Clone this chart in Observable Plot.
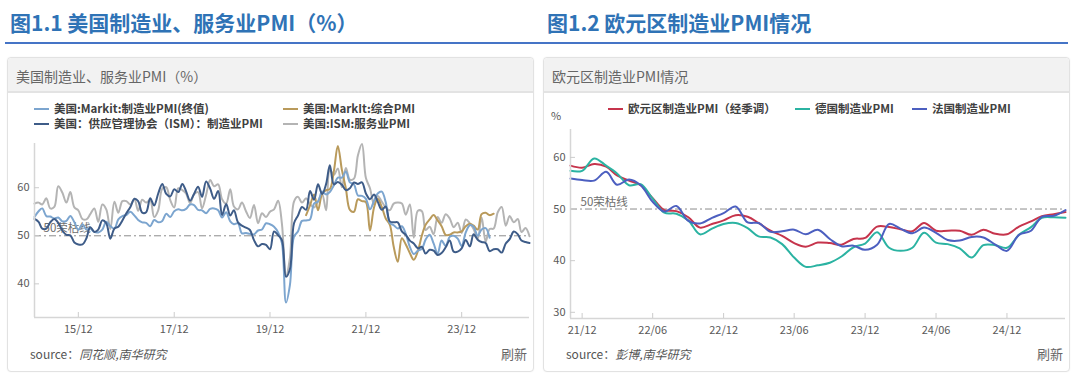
<!DOCTYPE html>
<html>
<head>
<meta charset="utf-8">
<script src="https://cdn.jsdelivr.net/npm/d3@7"></script>
<script src="https://cdn.jsdelivr.net/npm/@observablehq/plot@0.6"></script>
<style>
  html, body { margin: 0; padding: 0; background: #fff; }
  body { width: 1080px; height: 381px; overflow: hidden; position: relative;
         font-family: "Noto Sans CJK SC", "Noto Sans", sans-serif; }
  .abs { position: absolute; white-space: nowrap; }
  .title { font-size: 21px; font-weight: bold; color: #2f73b6; top: 7px; line-height: 30px; }
  .uline { height: 2px; background: #4574c6; top: 42px; }
  .card { top: 57px; height: 315px; border: 1px solid #e2e2e2; border-radius: 4px; box-sizing: border-box;
          box-shadow: 0 0 2px rgba(0,0,0,0.06); background: #fff; }
  .head { position: absolute; left: 0; right: 0; top: 0; height: 35px; background: #f2f2f2;
          border-bottom: 2px solid #e3e3e3; border-radius: 4px 4px 0 0; box-sizing: border-box;
          font-size: 14px; color: #666; line-height: 36px; padding-left: 8px; }
  .leg { font-size: 11.5px; font-weight: bold; color: #404040; line-height: 14px; }
  .sw { display: inline-block; width: 15px; height: 2.5px; vertical-align: middle; margin-right: 5px; position: relative; top: -1px; }
  .src { font-size: 12px; color: #555; line-height: 16px; }
  .src i { font-style: italic; color: #555; }
  .refresh { font-size: 13px; color: #666; line-height: 16px; }
  .unit { font-size: 11px; color: #555; line-height: 14px; }
</style>
</head>
<body>
<div class="abs title" style="left:10px">图1.1 美国制造业、服务业PMI（%）</div>
<div class="abs title" style="left:547px">图1.2 欧元区制造业PMI情况</div>
<div class="abs uline" style="left:5px;width:1063px"></div>

<div class="abs card" style="left:7px;width:527px"><div class="head">美国制造业、服务业PMI（%）</div></div>
<div class="abs card" style="left:543px;width:527px"><div class="head">欧元区制造业PMI情况</div></div>

<div id="legL"></div>
<div id="legR"></div>
<div class="abs unit" style="left:551px;top:108px">%</div>

<div id="chartL" class="abs" style="left:0px;top:95px"></div>
<div id="chartR" class="abs" style="left:540px;top:95px"></div>

<div class="abs src" style="left:30px;top:346px">source：<i>同花顺,南华研究</i></div>
<div class="abs refresh" style="left:501px;top:346px">刷新</div>
<div class="abs src" style="left:566px;top:346px">source：<i>彭博,南华研究</i></div>
<div class="abs refresh" style="left:1037px;top:346px">刷新</div>

<script>
// ---------------- Left chart data (US PMI, monthly) ----------------
const usNames = ["美国:Markit:制造业PMI(终值)", "美国:MarkIt:综合PMI", "美国：供应管理协会（ISM）：制造业PMI", "美国:ISM:服务业PMI"];
const usColors = ["#7ca5cf", "#b99a5b", "#3e5c88", "#b4b4b4"];
const usStart = ["2015-01", "2020-09", "2015-01", "2015-01"];

// 美国:Markit:制造业PMI(终值)  2015-01 .. 2024-07
const markitMfg = [
  53.9, 55.1, 55.7, 54.1, 54.0, 53.6, 53.8, 53.0, 53.1, 54.1, 52.8, 51.2,
  52.4, 51.3, 51.5, 50.8, 50.7, 51.3, 52.9, 52.0, 51.5, 53.4, 54.1, 54.3,
  55.0, 54.2, 53.3, 52.8, 52.7, 52.0, 53.3, 52.8, 53.1, 54.6, 53.9, 55.1,
  55.5, 55.3, 55.6, 56.5, 56.4, 55.4, 55.3, 54.7, 55.6, 55.7, 55.3, 53.8,
  54.9, 53.0, 52.4, 52.6, 50.5, 50.6, 50.4, 50.3, 51.1, 51.3, 52.6, 52.4,
  51.9, 50.7, 48.5, 36.1, 39.8, 49.8, 50.9, 53.1, 53.2, 53.4, 56.7, 57.1,
  59.2, 58.6, 59.1, 60.5, 62.1, 62.1, 63.4, 61.1, 60.7, 58.4, 58.3, 57.7,
  55.5, 57.3, 58.8, 59.2, 57.0, 52.7, 52.2, 51.5, 52.0, 50.4, 47.7, 46.2,
  46.9, 47.3, 49.2, 50.2, 48.4, 46.3, 49.0, 47.9, 49.8, 50.0, 49.4, 47.9,
  50.7, 52.2, 51.9, 50.0, 51.3, 51.6, 49.6
];
// 美国:MarkIt:综合PMI  2020-09 .. 2024-08
const markitComposite = [
  54.3, 56.3, 58.6, 55.3,
  58.7, 59.5, 59.7, 63.5, 68.7, 63.7, 59.9, 55.4, 55.0, 57.6, 57.2, 57.0,
  51.1, 55.9, 57.7, 56.0, 53.6, 52.3, 47.7, 44.6, 49.5, 48.2, 46.4, 45.0,
  46.8, 50.1, 52.3, 53.4, 54.3, 53.2, 52.0, 50.2, 50.2, 50.7, 50.7, 50.9,
  52.0, 52.5, 52.1, 51.3, 54.5, 54.8, 54.3, 54.6
];
// 美国：供应管理协会（ISM）：制造业PMI  2015-01 .. 2025-05
const ismMfg = [
  53.5, 52.9, 51.5, 51.5, 52.8, 53.5, 52.7, 51.1, 50.2, 50.1, 48.6, 48.2,
  48.2, 49.5, 51.8, 50.8, 51.3, 53.2, 52.6, 49.4, 51.5, 51.9, 53.2, 54.7,
  56.0, 57.7, 57.2, 54.8, 54.9, 57.8, 56.3, 58.8, 60.8, 58.7, 58.2, 59.7,
  59.1, 60.8, 59.3, 57.3, 58.7, 60.2, 58.1, 61.3, 59.8, 57.7, 59.3, 54.3,
  56.6, 54.2, 55.3, 52.8, 52.1, 51.7, 51.2, 49.1, 47.8, 48.3, 48.1, 47.2,
  50.9, 50.1, 49.1, 41.5, 43.1, 52.6, 54.2, 56.0, 55.4, 59.3, 57.5, 60.7,
  58.7, 60.8, 64.7, 60.7, 61.2, 60.6, 59.5, 59.9, 61.1, 60.8, 61.1, 58.8,
  57.6, 58.6, 57.1, 55.4, 56.1, 53.0, 52.8, 52.8, 50.9, 50.2, 49.0, 48.4,
  47.4, 47.7, 46.3, 47.1, 46.9, 46.0, 46.4, 47.6, 49.0, 46.7, 46.7, 47.4,
  49.1, 47.8, 50.3, 49.2, 48.7, 48.5, 46.8, 47.2, 47.2, 46.5, 48.4, 49.3,
  50.9, 50.3, 49.0, 48.7, 48.5
];
// 美国:ISM:服务业PMI  2015-01 .. 2025-05
const ismSvc = [
  56.7, 56.9, 56.5, 57.8, 55.7, 56.0, 60.3, 59.0, 56.9, 59.1, 55.9, 55.3,
  53.5, 53.4, 54.5, 55.7, 52.9, 56.5, 55.5, 51.4, 57.1, 54.8, 57.2, 57.2,
  56.5, 57.6, 55.2, 57.5, 56.9, 57.4, 53.9, 55.3, 59.8, 60.1, 57.4, 55.9,
  59.9, 59.5, 58.8, 56.8, 58.6, 59.1, 55.7, 58.5, 61.6, 60.3, 60.7, 57.6,
  56.7, 59.7, 56.1, 55.5, 56.9, 55.1, 53.7, 56.4, 52.6, 54.7, 53.9, 55.0,
  55.5, 57.3, 52.5, 41.8, 45.4, 57.1, 58.1, 56.9, 57.8, 56.6, 55.9, 57.2,
  58.7, 55.3, 63.7, 62.7, 64.0, 60.1, 64.1, 61.7, 61.9, 66.7, 69.1, 62.0,
  59.9, 56.5, 58.3, 57.1, 55.9, 55.3, 56.7, 56.9, 56.7, 54.4, 56.5, 49.6,
  55.2, 55.1, 51.2, 51.9, 50.3, 53.9, 52.7, 54.5, 53.6, 51.8, 52.7, 50.6,
  53.4, 52.6, 51.4, 49.4, 53.8, 48.8, 51.4, 51.5, 54.9, 56.0, 52.1, 54.1,
  52.8, 53.5, 50.8, 51.6, 49.9
];
const usValues = [markitMfg, markitComposite, ismMfg, ismSvc];
const usDrawOrder = [3, 1, 0, 2];
const usXDomain = ["2015-01", "2025-05"];
const usYDomain = [33, 69.2];
const usXTicks = ["2015-12", "2017-12", "2019-12", "2021-12", "2023-12"];
const usYTicks = [40, 50, 60];

// ---------------- Right chart data (Euro area PMI, monthly) ----------------
const euNames = ["欧元区制造业PMI（经季调）", "德国制造业PMI", "法国制造业PMI"];
const euColors = ["#c6344c", "#2bb3a2", "#4c5fc0"];
const euStartMonth = "2021-11";
// 2021-11 .. 2025-05
const euroMfg = [
  58.4, 58.0,
  58.7, 58.2, 56.5, 55.5, 54.6, 52.1, 49.8, 49.6, 48.4, 46.4, 47.1, 47.8,
  48.8, 48.5, 47.3, 45.8, 44.8, 43.4, 42.7, 43.5, 43.4, 43.1, 44.2, 44.4,
  46.6, 46.5, 46.1, 45.7, 47.3, 45.8, 45.8, 45.8, 45.0, 46.0, 45.2, 45.1,
  46.6, 47.6, 48.6, 49.0, 49.4
];
const germanyMfg = [
  57.4, 57.4,
  59.8, 58.4, 56.9, 54.6, 54.8, 52.0, 49.3, 49.1, 47.8, 45.1, 46.2, 47.1,
  47.3, 46.3, 44.7, 44.5, 43.2, 40.6, 38.8, 39.1, 39.6, 40.8, 42.6, 43.3,
  45.5, 42.5, 41.9, 42.5, 45.4, 43.5, 43.2, 42.4, 40.6, 43.0, 43.0, 42.5,
  45.0, 46.5, 48.3, 48.4, 48.3
];
const franceMfg = [
  55.9, 55.6,
  55.5, 57.2, 54.7, 55.7, 54.6, 51.4, 49.5, 50.6, 47.7, 47.2, 48.3, 49.2,
  50.5, 47.4, 47.3, 45.6, 45.7, 46.0, 45.1, 46.0, 44.2, 42.8, 42.9, 42.1,
  43.1, 47.1, 46.2, 45.3, 46.4, 45.4, 44.0, 43.9, 44.6, 44.5, 43.1, 41.9,
  45.0, 45.8, 48.5, 48.7, 49.8
];
const euValues = [euroMfg, germanyMfg, franceMfg];
const euXDomain = ["2021-11", "2025-05"];
const euYDomain = [28.8, 65.4];
const euXTicks = ["2021-12", "2022-06", "2022-12", "2023-06", "2023-12", "2024-06", "2024-12"];
const euYTicks = [30, 40, 50, 60];

const thresholdValue = 50;
const thresholdText = "50荣枯线";

// ---------------- helpers ----------------
const parseMonth = s => { const [y, m] = s.split("-").map(Number); return new Date(Date.UTC(y, m - 1, 1)); };
const toRows = (start, values) => values.map((v, i) => ({ date: d3.utcMonth.offset(parseMonth(start), i), value: v }));

function legend(containerId, items) {
  const c = document.getElementById(containerId);
  items.forEach(it => {
    const d = document.createElement("div");
    d.className = "abs leg";
    d.style.left = it.left + "px";
    d.style.top = it.top + "px";
    d.innerHTML = `<span class="sw" style="background:${it.color}"></span>${it.name}`;
    c.appendChild(d);
  });
}

function makeChart({ width, height, ml, mr, mt, mb, xDomain, yDomain, xTicks, yTicks, series, labelDx, labelDy }) {
  const plotW = width - ml - mr, plotH = height - mt - mb;
  const xd = xDomain.map(parseMonth);
  const xt = xTicks.map(parseMonth);
  const labelRows = [{ date: xd[0], value: thresholdValue, text: thresholdText }];
  return Plot.plot({
    width, height,
    marginLeft: ml, marginRight: mr, marginTop: mt, marginBottom: mb,
    x: { type: "utc", domain: xd, label: null },
    y: { domain: yDomain, label: null },
    style: { fontFamily: '"Noto Sans CJK SC", "Noto Sans", sans-serif', fontSize: "11px", color: "#595959", background: "transparent", overflow: "visible" },
    marks: [
      Plot.ruleY([thresholdValue], { stroke: "#8c8c8c", strokeWidth: 1, strokeDasharray: "7,3,2,3" }),
      Plot.text(labelRows, { x: "date", y: "value", text: "text", textAnchor: "start", dx: labelDx, dy: labelDy, fill: "#6e6e6e", fontSize: 11.5 }),
      ...series.map(s => Plot.line(s.rows, { x: "date", y: "value", stroke: s.color, strokeWidth: 2, curve: "catmull-rom" })),
      Plot.ruleX([xd[0]], { stroke: "#d6d6d6", strokeWidth: 1.5 }),
      Plot.ruleY([yDomain[0]], { stroke: "#d6d6d6", strokeWidth: 1.5 }),
      Plot.tickX(xt, { x: d => d, stroke: "#cccccc", insetTop: plotH - 5 }),
      Plot.tickY(yTicks, { y: d => d, stroke: "#cccccc", insetRight: plotW - 5 }),
      Plot.axisX({ ticks: xt, tickFormat: d3.utcFormat("%y/%m"), tickSize: 0, tickPadding: 8, label: null, fill: "#595959" }),
      Plot.axisY({ ticks: yTicks, tickSize: 0, tickPadding: 5, label: null, fill: "#595959" })
    ]
  });
}

// ---------------- left chart ----------------
legend("legL", [
  { name: usNames[0], color: usColors[0], left: 34, top: 101 },
  { name: usNames[1], color: usColors[1], left: 283, top: 101 },
  { name: usNames[2], color: usColors[2], left: 34, top: 116 },
  { name: usNames[3], color: usColors[3], left: 283, top: 116 }
]);
const usSeries = usDrawOrder.map(i => ({ rows: toRows(usStart[i], usValues[i]), color: usColors[i] }));
document.getElementById("chartL").appendChild(makeChart({
  width: 540, height: 250, ml: 34, mr: 11, mt: 48, mb: 28,
  xDomain: usXDomain, yDomain: usYDomain, xTicks: usXTicks, yTicks: usYTicks,
  series: usSeries, labelDx: 9, labelDy: -7
}));

// ---------------- right chart ----------------
legend("legR", [
  { name: euNames[0], color: euColors[0], left: 608, top: 101 },
  { name: euNames[1], color: euColors[1], left: 795, top: 101 },
  { name: euNames[2], color: euColors[2], left: 912, top: 101 }
]);
const euSeries = euValues.map((v, i) => ({ rows: toRows(euStartMonth, v), color: euColors[i] }));
document.getElementById("chartR").appendChild(makeChart({
  width: 540, height: 250, ml: 30, mr: 15, mt: 34, mb: 27,
  xDomain: euXDomain, yDomain: euYDomain, xTicks: euXTicks, yTicks: euYTicks,
  series: euSeries, labelDx: 10, labelDy: -7
}));
</script>
</body>
</html>
